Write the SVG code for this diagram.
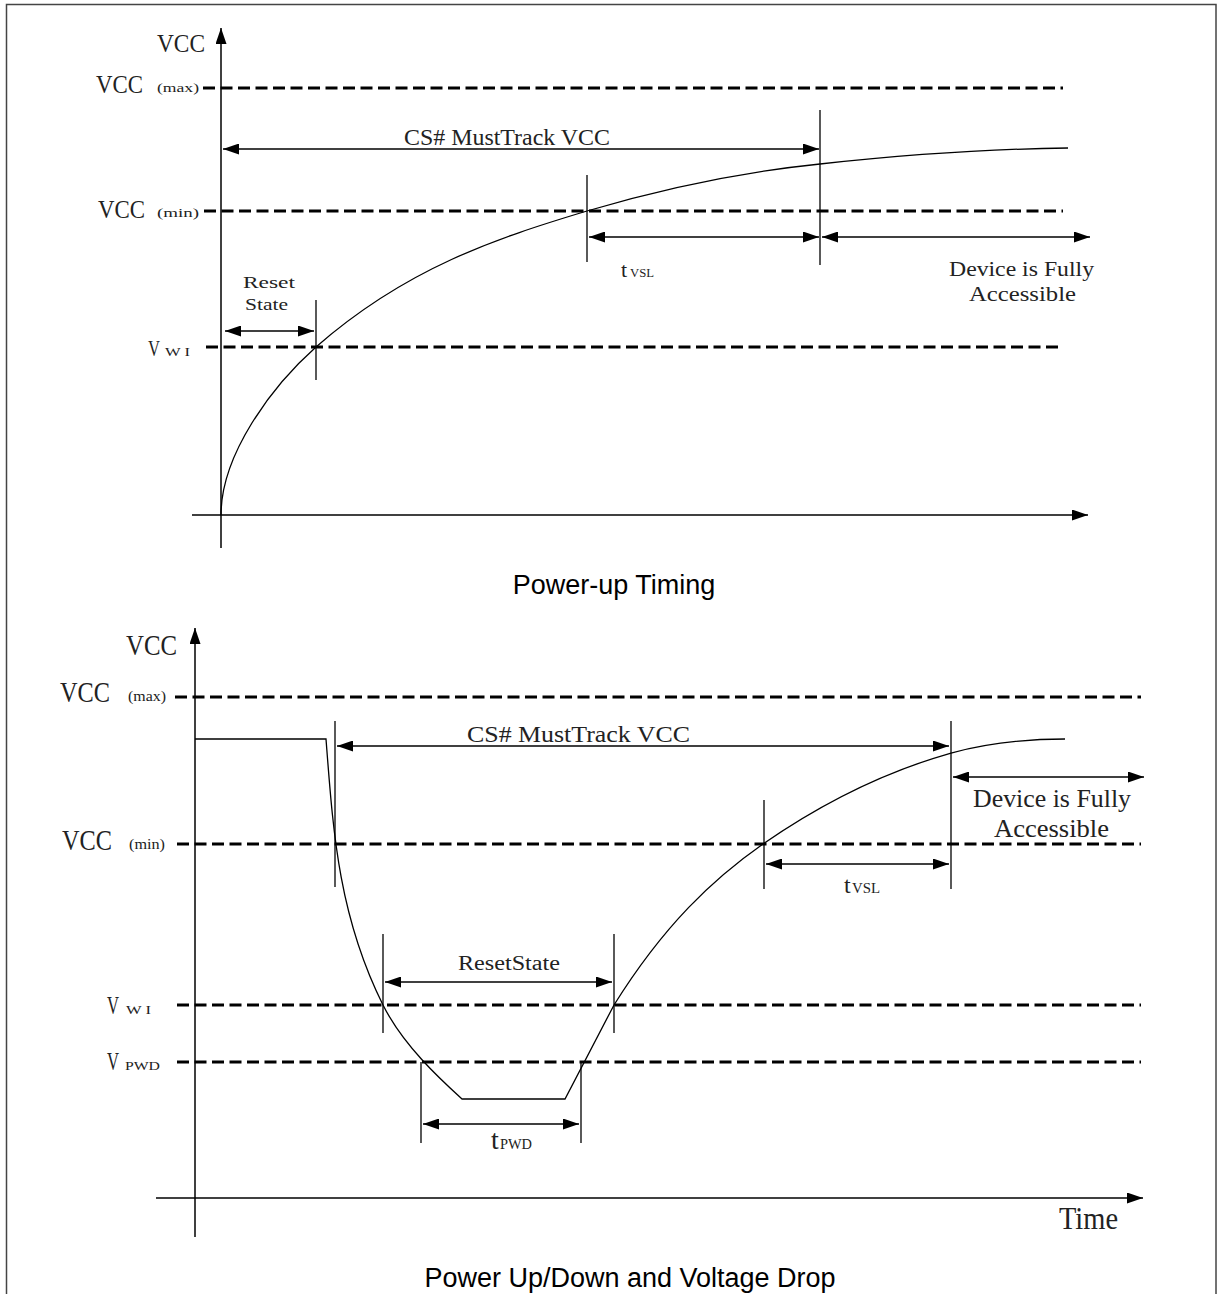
<svg xmlns="http://www.w3.org/2000/svg" width="1221" height="1294" viewBox="0 0 1221 1294">
<style>
.ln{stroke:#000;stroke-width:1.3;fill:none}
.ax{stroke:#000;stroke-width:1.5;fill:none}
.dash{stroke:#000;stroke-width:3;stroke-dasharray:12 5.5;fill:none}
.lbl{font-family:"Liberation Serif",serif;fill:#222}
.cap{font-family:"Liberation Sans",Arial,sans-serif;fill:#000;text-anchor:middle}
.arr{marker-end:url(#ah)}
.dbl{marker-start:url(#ah);marker-end:url(#ah)}
</style>
<defs>
<marker id="ah" markerUnits="userSpaceOnUse" markerWidth="16" markerHeight="11" refX="16" refY="5.5" orient="auto-start-reverse">
<path d="M0,0 L16,5.5 L0,11 z" fill="#000"/>
</marker>
</defs>
<rect id="frame" x="6.5" y="4.5" width="1209.5" height="1300" fill="none" stroke="#444" stroke-width="1.5"/>

<!-- ================= TOP: Power-up Timing ================= -->
<g id="top-levels">
<line class="dash" x1="203" y1="88" x2="1063" y2="88"/>
<line class="dash" x1="204" y1="211" x2="1063" y2="211"/>
<line class="dash" x1="206" y1="347" x2="1063" y2="347"/>
</g>
<g id="top-axes">
<line class="ax arr" x1="221" y1="548" x2="221" y2="28"/>
<line class="ax arr" x1="192" y1="515" x2="1088" y2="515"/>
</g>
<g id="top-curve">
<path class="ln" d="M221,515 C221,455 271,387 316,347 C406,268 497,238 587,211 C665,188 742,172 820,164 C903,155 985,149 1068,148"/>
</g>
<g id="top-ticks">
<line class="ln" x1="316" y1="300" x2="316" y2="380"/>
<line class="ln" x1="587" y1="175" x2="587" y2="262"/>
<line class="ln" x1="820" y1="110" x2="820" y2="265"/>
</g>
<g id="top-connectors">
<line class="ln dbl" x1="223" y1="149" x2="819" y2="149"/>
<line class="ln dbl" x1="225" y1="331" x2="314" y2="331"/>
<line class="ln dbl" x1="589" y1="237" x2="819" y2="237"/>
<line class="ln dbl" x1="822" y1="237" x2="1090" y2="237"/>
</g>
<g id="top-labels" class="lbl">
<text x="157" y="52" font-size="25" textLength="48" lengthAdjust="spacingAndGlyphs">VCC</text>
<text x="96" y="93" font-size="25" textLength="47" lengthAdjust="spacingAndGlyphs">VCC</text>
<text x="157" y="92" font-size="13" textLength="42" lengthAdjust="spacingAndGlyphs">(max)</text>
<text x="98" y="218" font-size="25" textLength="47" lengthAdjust="spacingAndGlyphs">VCC</text>
<text x="157" y="217" font-size="13" textLength="42" lengthAdjust="spacingAndGlyphs">(min)</text>
<text x="148" y="356" font-size="24" textLength="12" lengthAdjust="spacingAndGlyphs">V</text>
<text x="165" y="356" font-size="12" textLength="25" lengthAdjust="spacingAndGlyphs">W I</text>
<text x="243" y="288" font-size="16" textLength="52" lengthAdjust="spacingAndGlyphs">Reset</text>
<text x="245" y="310" font-size="16" textLength="43" lengthAdjust="spacingAndGlyphs">State</text>
<text x="404" y="145" font-size="23" textLength="206" lengthAdjust="spacingAndGlyphs">CS# MustTrack VCC</text>
<text x="621" y="277" font-size="22">t</text>
<text x="630" y="277" font-size="13" textLength="24" lengthAdjust="spacingAndGlyphs">VSL</text>
<text x="949" y="276" font-size="22" textLength="145" lengthAdjust="spacingAndGlyphs">Device is Fully</text>
<text x="969" y="301" font-size="22" textLength="107" lengthAdjust="spacingAndGlyphs">Accessible</text>
</g>
<text id="caption-top" class="cap" x="614" y="594" font-size="27">Power-up Timing</text>

<!-- ================= BOTTOM: Power Up/Down and Voltage Drop ================= -->
<g id="bot-levels">
<line class="dash" x1="175" y1="697" x2="1141" y2="697"/>
<line class="dash" x1="177" y1="844" x2="1141" y2="844"/>
<line class="dash" x1="177" y1="1005" x2="1141" y2="1005"/>
<line class="dash" x1="177" y1="1062" x2="1141" y2="1062"/>
</g>
<g id="bot-axes">
<line class="ax arr" x1="195" y1="1237" x2="195" y2="628"/>
<line class="ax arr" x1="156" y1="1198" x2="1143" y2="1198"/>
</g>
<g id="bot-curve">
<path class="ln" d="M195,739 H326 C333,829 338,915 383,1005 C403,1045 440,1079 462,1099 H565 L614,1005 C664,925 713,879 763,844 C825,801 888,771 951,753 C988,743 1027,739 1065,739"/>
</g>
<g id="bot-ticks">
<line class="ln" x1="335" y1="721" x2="335" y2="887"/>
<line class="ln" x1="383" y1="934" x2="383" y2="1033"/>
<line class="ln" x1="614" y1="934" x2="614" y2="1033"/>
<line class="ln" x1="421" y1="1062" x2="421" y2="1143"/>
<line class="ln" x1="581" y1="1062" x2="581" y2="1143"/>
<line class="ln" x1="764" y1="800" x2="764" y2="889"/>
<line class="ln" x1="951" y1="721" x2="951" y2="889"/>
</g>
<g id="bot-connectors">
<line class="ln dbl" x1="337" y1="746" x2="949" y2="746"/>
<line class="ln dbl" x1="953" y1="777" x2="1144" y2="777"/>
<line class="ln dbl" x1="766" y1="864" x2="949" y2="864"/>
<line class="ln dbl" x1="385" y1="982" x2="612" y2="982"/>
<line class="ln dbl" x1="423" y1="1124" x2="579" y2="1124"/>
</g>
<g id="bot-labels" class="lbl">
<text x="126" y="655" font-size="29" textLength="51" lengthAdjust="spacingAndGlyphs">VCC</text>
<text x="60" y="702" font-size="29" textLength="50" lengthAdjust="spacingAndGlyphs">VCC</text>
<text x="128" y="701" font-size="14" textLength="38" lengthAdjust="spacingAndGlyphs">(max)</text>
<text x="62" y="850" font-size="29" textLength="50" lengthAdjust="spacingAndGlyphs">VCC</text>
<text x="129" y="849" font-size="14" textLength="36" lengthAdjust="spacingAndGlyphs">(min)</text>
<text x="107" y="1014" font-size="26" textLength="12" lengthAdjust="spacingAndGlyphs">V</text>
<text x="126" y="1014" font-size="13" textLength="25" lengthAdjust="spacingAndGlyphs">W I</text>
<text x="107" y="1070" font-size="26" textLength="12" lengthAdjust="spacingAndGlyphs">V</text>
<text x="125" y="1070" font-size="13" textLength="35" lengthAdjust="spacingAndGlyphs">PWD</text>
<text x="467" y="742" font-size="24" textLength="223" lengthAdjust="spacingAndGlyphs">CS# MustTrack VCC</text>
<text x="973" y="807" font-size="25" textLength="158" lengthAdjust="spacingAndGlyphs">Device is Fully</text>
<text x="994" y="837" font-size="25" textLength="115" lengthAdjust="spacingAndGlyphs">Accessible</text>
<text x="844" y="893" font-size="24">t</text>
<text x="852" y="893" font-size="14" textLength="28" lengthAdjust="spacingAndGlyphs">VSL</text>
<text x="458" y="970" font-size="20" textLength="102" lengthAdjust="spacingAndGlyphs">ResetState</text>
<text x="491" y="1149" font-size="28">t</text>
<text x="500" y="1149" font-size="14" textLength="32" lengthAdjust="spacingAndGlyphs">PWD</text>
<text x="1059" y="1229" font-size="32" textLength="59" lengthAdjust="spacingAndGlyphs">Time</text>
</g>
<text id="caption-bottom" class="cap" x="630" y="1287" font-size="27">Power Up/Down and Voltage Drop</text>
</svg>
